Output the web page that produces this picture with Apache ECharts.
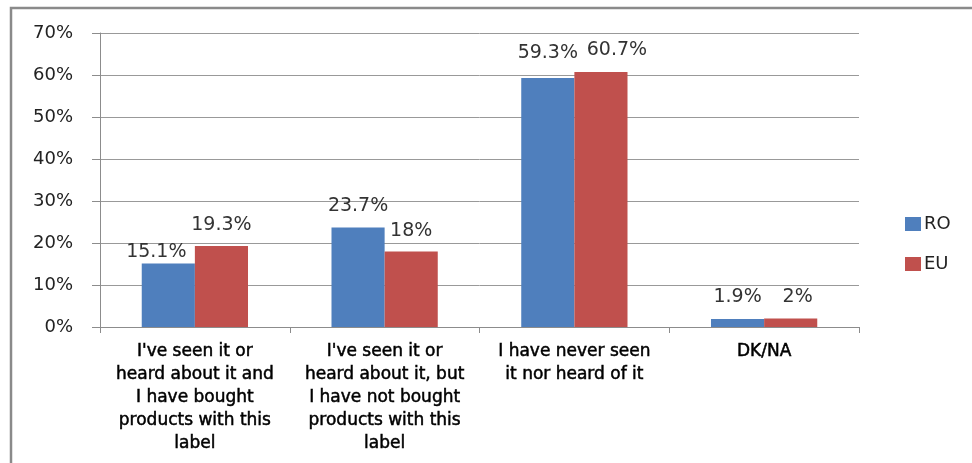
<!DOCTYPE html>
<html>
<head>
<meta charset="utf-8">
<script src="https://cdn.jsdelivr.net/npm/echarts@6/dist/echarts.min.js"></script>
<style>
  html, body { margin: 0; padding: 0; background: #fff; }
  #chart { width: 972px; height: 463px; }
</style>
</head>
<body>
<div id="chart"></div>
<script>
const categories = [
  "I've seen it or\nheard about it and\nI have bought\nproducts with this\nlabel",
  "I've seen it or\nheard about it, but\nI have not bought\nproducts with this\nlabel",
  'I have never seen\nit nor heard of it',
  'DK/NA',
];
const roValues = [15.1, 23.7, 59.3, 1.9];
const euValues = [19.3, 18, 60.7, 2];
const yTicks = { min: 0, max: 70, interval: 10 };

// hand-moved data labels in the original, [dx, dy] per bar
const roLabelShift = [[-12, 10], [0, 0], [0, -3], [0, 0]];
const euLabelShift = [[0, 1], [0, 1], [16, 0], [7, 0]];

const FONT = 'DejaVu Sans';
const chart = echarts.init(document.getElementById('chart'));

function fmtPct(v) {
  return `${v}%`;
}

function buildData(values, shifts) {
  return values.map((v, i) => ({
    value: v,
    label: { offset: shifts[i] },
  }));
}

function barSeries(name, color, values, shifts) {
  return {
    name,
    type: 'bar',
    barGap: '0%',
    barCategoryGap: '44%',
    itemStyle: { color },
    label: {
      show: true,
      position: 'top',
      distance: 12,
      color: '#333',
      fontFamily: FONT,
      fontSize: 19,
      formatter: (p) => fmtPct(p.value),
    },
    data: buildData(values, shifts),
  };
}

chart.setOption({
  animation: false,
  textStyle: { fontFamily: FONT },
  graphic: [{
    type: 'rect',
    shape: { x: 11, y: 8, width: 1000, height: 500 },
    style: { fill: 'none', stroke: '#8a8a8a', lineWidth: 2.5 },
    silent: true,
  }],
  grid: { left: 100, right: 113, top: 33, bottom: 136 },
  legend: {
    orient: 'vertical',
    left: 900,
    top: 210,
    itemWidth: 16,
    itemHeight: 14,
    itemGap: 22,
    icon: 'rect',
    textStyle: { fontFamily: FONT, fontSize: 18, color: '#222', padding: [0, 0, 0, -2] },
    data: ['RO', 'EU'],
  },
  xAxis: {
    type: 'category',
    data: categories,
    axisLine: { lineStyle: { color: '#8c8c8c', width: 1 } },
    axisTick: { show: true, length: 6, lineStyle: { color: '#8c8c8c' } },
    axisLabel: {
      interval: 0,
      margin: 13,
      color: '#000',
      fontFamily: FONT,
      fontSize: 17,
      lineHeight: 23,
      align: 'center',
      textBorderColor: '#000',
      textBorderWidth: 0.5,
    },
  },
  yAxis: {
    type: 'value',
    min: yTicks.min,
    max: yTicks.max,
    interval: yTicks.interval,
    axisLine: { show: true, lineStyle: { color: '#8c8c8c', width: 1 } },
    axisTick: { show: true, length: 8, lineStyle: { color: '#8c8c8c' } },
    axisLabel: {
      margin: 27,
      color: '#222',
      fontFamily: FONT,
      fontSize: 18,
      formatter: fmtPct,
    },
    splitLine: { lineStyle: { color: '#999', width: 1 } },
  },
  series: [
    barSeries('RO', '#4f7fbd', roValues, roLabelShift),
    barSeries('EU', '#c0504d', euValues, euLabelShift),
  ],
});

window.addEventListener('resize', () => chart.resize());
</script>
</body>
</html>
